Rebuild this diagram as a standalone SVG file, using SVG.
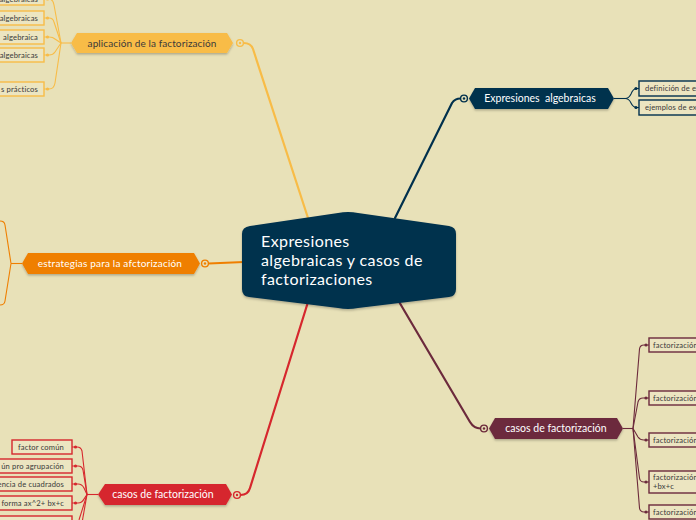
<svg xmlns="http://www.w3.org/2000/svg" width="696" height="520" viewBox="0 0 696 520">
<defs>
<filter id="sh" x="-10%" y="-30%" width="120%" height="170%">
<feDropShadow dx="0" dy="1.5" stdDeviation="1.2" flood-color="#000" flood-opacity="0.25"/>
</filter>
</defs>
<style>
.bg{fill:#E8E1B8}
.main{fill:none;stroke-width:2.2;stroke-linecap:round}
.sub{fill:none;stroke-width:1.1}
.box{fill:#ECE5C1;stroke-width:1.4}
.t{font-family:Lato,"Noto Sans",sans-serif}
.bt{font-family:Lato,"Noto Sans",sans-serif;font-size:7.6px;fill:#3a3a3a;letter-spacing:0.15px}
.hdl{fill:#E8E1B8;stroke-width:1.4}
.y{stroke:#F8BC47}.yf{fill:#F8BC47}
.o{stroke:#EF7F00}.of{fill:#EF7F00}
.r{stroke:#D6272D}.rf{fill:#D6272D}
.m{stroke:#6C2A3C}.mf{fill:#6C2A3C}
.n{stroke:#00304D}.nf{fill:#00304D}
</style>
<rect class="bg" x="0" y="0" width="696" height="520"/>

<g id="connectors">
<path class="main n" d="M395,218 L452,103 Q455,98.5 460.5,98.5"/>
<path class="main y" d="M243.5,43 Q251,43 253,49 L308,218"/>
<path class="main o" d="M208.5,263.5 L244,262"/>
<path class="main r" d="M240.5,495 Q248,495 250,488 L308,302"/>
<path class="main m" d="M398,300 L470,422 Q474,428.5 480.5,428.5"/>

<!-- yellow children -->
<path class="sub y" d="M71,43 L61,43"/>
<path class="sub y" d="M61,43 L54,5 Q53,-1 49,-1 L44,-1"/>
<path class="sub y" d="M61,43 L54,22 Q53,18 49,18 L44,18"/>
<path class="sub y" d="M61,43 L55,39 Q53,37 49,37 L44,37"/>
<path class="sub y" d="M61,43 L55,52 Q53,55 49,55 L44,55"/>
<path class="sub y" d="M61,43 L55,83 Q54,89 49,89 L44,89"/>
<circle class="yf" cx="47.5" cy="18" r="1.6"/>
<circle class="yf" cx="47.5" cy="37" r="1.6"/>
<circle class="yf" cx="47.5" cy="55" r="1.6"/>
<circle class="yf" cx="47.5" cy="89" r="1.6"/>
<circle class="yf" cx="47.5" cy="-1" r="1.6"/>

<!-- orange children -->
<path class="sub o" d="M22,263.5 L11,263.5"/>
<path class="sub o" d="M11,263.5 L5,225 Q4.5,221 0,221"/>
<path class="sub o" d="M11,263.5 L5,301 Q4.5,305 0,305"/>

<!-- red children -->
<path class="sub r" d="M98,494.5 L87,494.5"/>
<path class="sub r" d="M87,494.5 L82,451 Q81,447 77,447 L72,447"/>
<path class="sub r" d="M87,494.5 L83,470 Q82,466 78,466 L72,466"/>
<path class="sub r" d="M87,494.5 L84,488 Q82,484 78,484 L72,484"/>
<path class="sub r" d="M87,494.5 L84,499 Q82,503 78,503 L72,503"/>
<path class="sub r" d="M87,494.5 L82.5,520"/>
<path class="sub r" d="M87,494.5 L79,520"/>
<circle class="rf" cx="75.5" cy="447" r="1.6"/>
<circle class="rf" cx="75.5" cy="466" r="1.6"/>
<circle class="rf" cx="75.5" cy="484" r="1.6"/>
<circle class="rf" cx="75.5" cy="503" r="1.6"/>

<!-- maroon children -->
<path class="sub m" d="M623,428.5 L633,428.5"/>
<path class="sub m" d="M633,428.5 L639.5,349 Q640,345 644,345 L649,345"/>
<path class="sub m" d="M633,428.5 L638,402 Q639,398 643,398 L649,398"/>
<path class="sub m" d="M633,428.5 L638,437 Q640,440 644,440 L649,440"/>
<path class="sub m" d="M633,428.5 L639.5,478 Q640,482 644,482 L649,482"/>
<path class="sub m" d="M633,428.5 L639.5,508 Q640,512 644,512 L649,512"/>
<circle class="mf" cx="646" cy="345" r="1.6"/>
<circle class="mf" cx="646" cy="398" r="1.6"/>
<circle class="mf" cx="646" cy="440" r="1.6"/>
<circle class="mf" cx="646" cy="482" r="1.6"/>
<circle class="mf" cx="646" cy="512" r="1.6"/>

<!-- navy children -->
<path class="sub n" d="M614,98.5 L625,98.5"/>
<path class="sub n" d="M625,98.5 Q629,98.5 631,94 Q633,88.5 637,88.5 L639,88.5"/>
<path class="sub n" d="M625,98.5 Q629,98.5 631,103 Q633,107.5 637,107.5 L639,107.5"/>
<circle class="nf" cx="636" cy="88.5" r="1.6"/>
<circle class="nf" cx="636" cy="107.5" r="1.6"/>
</g>

<g id="center">
<path class="nf" filter="url(#sh)" d="M250,226 L338,213 Q348,211 358,213 L449,226 Q456,227 456,234 L456,289 Q456,296 449,297 L358,308 Q348,310 338,308 L249,297 Q242,296 242,289 L242,234 Q242,227 250,226 Z"/>
<text class="t" x="261" y="247" font-size="16" letter-spacing="0.4" fill="#fff">Expresiones</text>
<text class="t" x="261" y="266" font-size="16" letter-spacing="0.4" fill="#fff">algebraicas y casos de</text>
<text class="t" x="261" y="285" font-size="16" letter-spacing="0.4" fill="#fff">factorizaciones</text>
</g>

<g id="expresiones">
<path class="nf" filter="url(#sh)" d="M469,98.5 L475,88 L608,88 L614,98.5 L608,109 L475,109 Z"/>
<text class="t" x="540" y="102" font-size="10.5" fill="#fff" text-anchor="middle" xml:space="preserve">Expresiones  algebraicas</text>
<circle class="hdl n" cx="464" cy="98.5" r="3.4"/>
<circle class="nf" cx="464" cy="98.5" r="1.2"/>
</g>
<g id="definicion">
<rect class="box n" x="639" y="81" width="70" height="15"/>
<text class="bt" x="645" y="91.3">definición de ex</text>
</g>
<g id="ejemplos">
<rect class="box n" x="639" y="100" width="70" height="15"/>
<text class="bt" x="645" y="110.3">ejemplos de ex</text>
</g>

<g id="aplicacion">
<path class="yf" filter="url(#sh)" d="M71,43 L77,33 L227,33 L233,43 L227,53 L77,53 Z"/>
<text class="t" x="152" y="46.5" font-size="10" letter-spacing="0.1" fill="#3a3a3a" text-anchor="middle">aplicación de la factorización</text>
<circle class="hdl y" cx="240" cy="43" r="3.4"/>
<circle class="yf" cx="240" cy="43" r="1.2"/>
</g>
<g id="y1"><rect class="box y" x="-10" y="-9" width="54" height="14"/><text class="bt" x="38" y="1.5" text-anchor="end">algebraicas</text></g>
<g id="y2"><rect class="box y" x="-10" y="11" width="54" height="14"/><text class="bt" x="38" y="20.8" text-anchor="end">algebraicas</text></g>
<g id="y3"><rect class="box y" x="-10" y="30" width="54" height="14"/><text class="bt" x="38" y="39.8" text-anchor="end">algebraica</text></g>
<g id="y4"><rect class="box y" x="-10" y="48" width="54" height="14"/><text class="bt" x="38" y="57.8" text-anchor="end">algebraicas</text></g>
<g id="y5"><rect class="box y" x="-10" y="82" width="54" height="14"/><text class="bt" x="38" y="91.8" text-anchor="end">s prácticos</text></g>

<g id="estrategias">
<path class="of" filter="url(#sh)" d="M22,263.5 L28,253 L194,253 L200,263.5 L194,274 L28,274 Z"/>
<text class="t" x="110" y="267" font-size="10" letter-spacing="0.2" fill="#fff" text-anchor="middle">estrategias para la afctorización</text>
<circle class="hdl o" cx="205" cy="263.5" r="3.4"/>
<circle class="of" cx="205" cy="263.5" r="1.2"/>
</g>

<g id="casos-rojo">
<path class="rf" filter="url(#sh)" d="M98,494.5 L105,484 L226,484 L232,494.5 L226,505 L105,505 Z"/>
<text class="t" x="163" y="498" font-size="10.5" fill="#fff" text-anchor="middle">casos de factorización</text>
<circle class="hdl r" cx="237" cy="495" r="3.4"/>
<circle class="rf" cx="237" cy="495" r="1.2"/>
</g>
<g id="r1"><rect class="box r" x="12" y="440" width="60" height="14"/><text class="bt" x="64" y="449.8" text-anchor="end">factor común</text></g>
<g id="r2"><rect class="box r" x="-10" y="459" width="82" height="14"/><text class="bt" x="64" y="468.8" text-anchor="end">ún pro agrupación</text></g>
<g id="r3"><rect class="box r" x="-10" y="477" width="82" height="14"/><text class="bt" x="64" y="486.8" text-anchor="end">encia de cuadrados</text></g>
<g id="r4"><rect class="box r" x="-10" y="496" width="82" height="14"/><text class="bt" x="64" y="505.8" text-anchor="end">a forma ax^2+ bx+c</text></g>
<g id="r5"><rect class="box r" x="-10" y="516" width="82" height="14"/></g>

<g id="casos-granate">
<path class="mf" filter="url(#sh)" d="M489,428.5 L495,418 L617,418 L623,428.5 L617,439 L495,439 Z"/>
<text class="t" x="556" y="432" font-size="10.5" fill="#fff" text-anchor="middle">casos de factorización</text>
<circle class="hdl m" cx="484" cy="428.5" r="3.4"/>
<circle class="mf" cx="484" cy="428.5" r="1.2"/>
</g>
<g id="m1"><rect class="box m" x="649" y="338" width="60" height="14"/><text class="bt" x="653" y="347.8">factorización</text></g>
<g id="m2"><rect class="box m" x="649" y="391" width="60" height="14"/><text class="bt" x="653" y="400.8">factorización</text></g>
<g id="m3"><rect class="box m" x="649" y="433" width="60" height="14"/><text class="bt" x="653" y="442.8">factorización</text></g>
<g id="m4"><rect class="box m" x="649" y="471" width="60" height="22"/><text class="bt" x="653" y="479.8">factorización</text><text class="bt" x="653" y="489.3">+bx+c</text></g>
<g id="m5"><rect class="box m" x="649" y="505" width="60" height="14"/><text class="bt" x="653" y="514.8">factorización</text></g>
</svg>
